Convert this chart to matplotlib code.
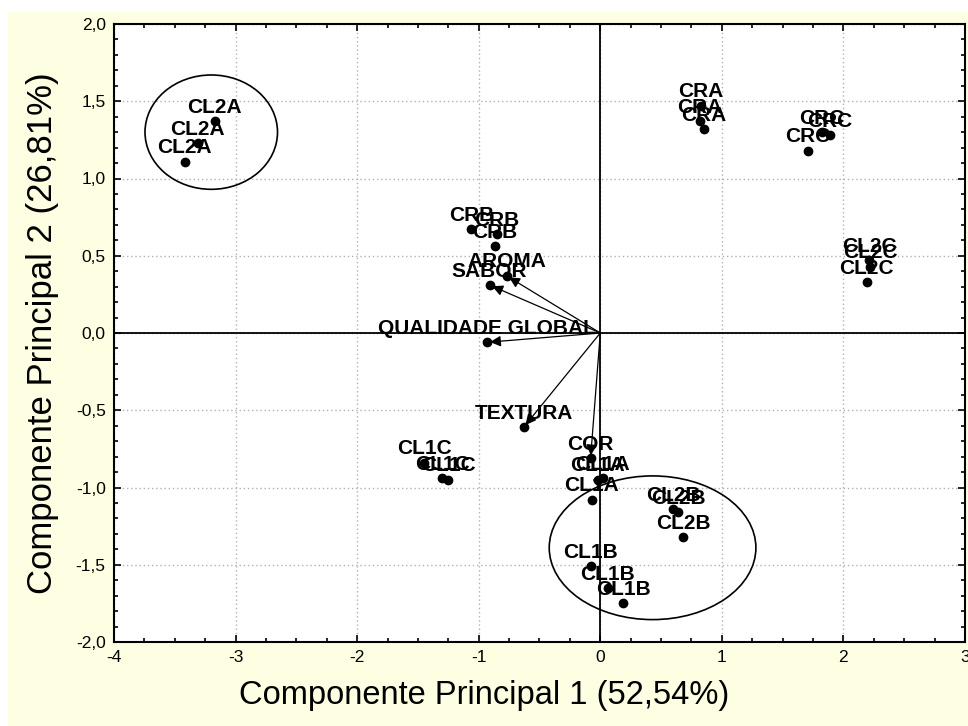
import matplotlib
matplotlib.use("Agg")
import matplotlib.pyplot as plt
from matplotlib.patches import Ellipse, Rectangle
from matplotlib.ticker import MultipleLocator, FuncFormatter

plt.rcParams['font.family'] = ['Liberation Sans', 'DejaVu Sans']
plt.rcParams['axes.unicode_minus'] = False

# scores of the samples on the first two components
obs_labels = ['CL2A', 'CL2A', 'CL2A', 'CRA', 'CRA', 'CRA', 'CRC', 'CRC', 'CRC',
              'CL2C', 'CL2C', 'CL2C', 'CRB', 'CRB', 'CRB', 'CL1C', 'CL1C', 'CL1C',
              'CL1A', 'CL1A', 'CL1A', 'CL2B', 'CL2B', 'CL2B', 'CL1B', 'CL1B', 'CL1B']
obs_pc1 = [-3.42, -3.31, -3.17, 0.83, 0.82, 0.85, 1.71, 1.82, 1.89,
           2.21, 2.22, 2.19, -1.06, -0.85, -0.87, -1.45, -1.30, -1.25,
           -0.07, -0.02, 0.02, 0.60, 0.64, 0.68, -0.08, 0.06, 0.19]
obs_pc2 = [1.11, 1.23, 1.37, 1.47, 1.37, 1.32, 1.18, 1.30, 1.28,
           0.47, 0.43, 0.33, 0.67, 0.64, 0.56, -0.84, -0.94, -0.95,
           -1.08, -0.95, -0.94, -1.14, -1.16, -1.32, -1.51, -1.65, -1.75]

# loadings of the sensory attributes
var_labels = ['AROMA', 'SABOR', 'QUALIDADE GLOBAL', 'TEXTURA', 'COR']
var_pc1 = [-0.77, -0.91, -0.93, -0.63, -0.08]
var_pc2 = [0.37, 0.31, -0.06, -0.61, -0.81]

# groups circled on the map: centre x, centre y, width, height
groups_cx = [-3.20, 0.43]
groups_cy = [1.30, -1.39]
groups_w = [1.09, 1.70]
groups_h = [0.74, 0.93]

fig = plt.figure(figsize=(9.68, 7.26), dpi=100, facecolor='white')
fig.patches.append(Rectangle((8 / 968, 0), 1, 1 - 12 / 726, transform=fig.transFigure,
                             facecolor='#fefee2', edgecolor='none', zorder=-1))
ax = fig.add_axes([114 / 968, 1 - 642 / 726, (965 - 114) / 968, (642 - 24) / 726])
ax.set_facecolor('white')

ax.set_xlim(-4, 3)
ax.set_ylim(-2, 2)
ax.xaxis.set_major_locator(MultipleLocator(1))
ax.xaxis.set_minor_locator(MultipleLocator(0.25))
ax.yaxis.set_major_locator(MultipleLocator(0.5))
ax.yaxis.set_minor_locator(MultipleLocator(0.1))
ax.yaxis.set_major_formatter(FuncFormatter(lambda v, p: f'{v:.1f}'.replace('.', ',')))
ax.xaxis.set_major_formatter(FuncFormatter(lambda v, p: f'{v:.0f}'))
ax.tick_params(which='both', direction='in', top=True, right=True, labelsize=12.5, pad=6)
ax.tick_params(which='major', length=5, width=1.2)
ax.tick_params(which='minor', length=3, width=1.2)
for s in ax.spines.values():
    s.set_linewidth(1.5)

ax.grid(True, which='major', color='#b0b0b0', linestyle=(0, (1, 2)), linewidth=1)
ax.axhline(0, color='black', lw=1.3, zorder=2)
ax.axvline(0, color='black', lw=1.3, zorder=2)

# arrows for the attributes
for lab, x, y in zip(var_labels, var_pc1, var_pc2):
    ax.annotate('', xy=(x, y), xytext=(0, 0),
                arrowprops=dict(arrowstyle='-|>', color='black', lw=0.9,
                                mutation_scale=16, shrinkA=0, shrinkB=2), zorder=3)
ax.plot(var_pc1, var_pc2, 'o', color='black', ms=6, zorder=4)
for lab, x, y in zip(var_labels, var_pc1, var_pc2):
    ax.annotate(lab, (x, y), xytext=(0, 10), textcoords='offset points',
                ha='center', va='center', fontsize=15, fontweight='bold', zorder=5)

ax.plot(obs_pc1, obs_pc2, 'o', color='black', ms=6, zorder=4)
for lab, x, y in zip(obs_labels, obs_pc1, obs_pc2):
    ax.annotate(lab, (x, y), xytext=(0, 10), textcoords='offset points',
                ha='center', va='center', fontsize=15, fontweight='bold', zorder=5)

for cx, cy, w, h in zip(groups_cx, groups_cy, groups_w, groups_h):
    ax.add_patch(Ellipse((cx, cy), w, h, fill=False, edgecolor='black', lw=1.2, zorder=3))

ax.set_xlabel('Componente Principal 1 (52,54%)', fontsize=23.5)
ax.xaxis.set_label_coords((484 - 114) / 851, -0.062)
ax.set_ylabel('Componente Principal 2 (26,81%)', fontsize=25, labelpad=12)

fig.savefig('out.png', dpi=100, facecolor=fig.get_facecolor())
